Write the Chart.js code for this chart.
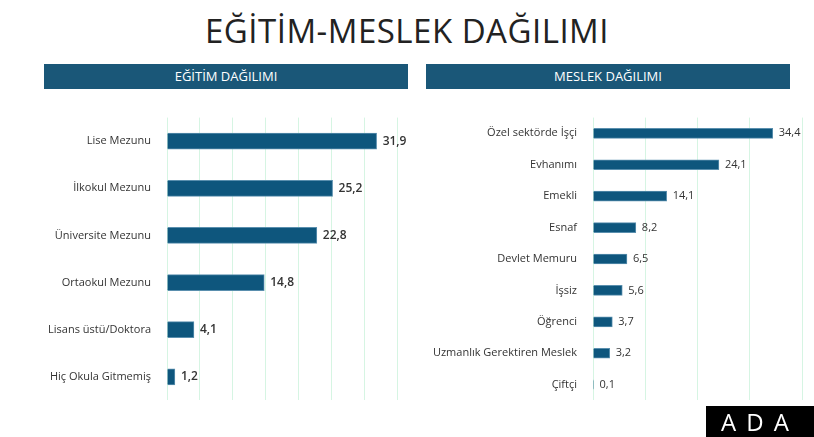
<!DOCTYPE html>
<html><head><meta charset="utf-8">
<script src="https://cdn.jsdelivr.net/npm/chart.js@4"></script>
<style>
body{margin:0;width:814px;height:437px;background:#fff;position:relative;overflow:hidden;font-family:"Open Sans",sans-serif}
h1{position:absolute;top:8px;left:0;width:814px;text-align:center;margin:0;font-size:33px;font-weight:500;color:#222;letter-spacing:0.5px}
.hd{position:absolute;top:64px;height:25px;background:#1a5778;color:#fff;font-size:13px;line-height:25px;text-align:center}
.c{position:absolute;top:103px;height:312px}
.logo{position:absolute;left:706px;top:406px;width:108px;height:31px;background:#000;color:#fff;font-size:24px;line-height:31px;text-align:center;letter-spacing:10px}
</style></head><body>
<h1>EĞİTİM-MESLEK DAĞILIMI</h1>
<div class="hd" style="left:44px;width:364px">EĞİTİM DAĞILIMI</div>
<div class="hd" style="left:426px;width:364px">MESLEK DAĞILIMI</div>
<div class="c" style="left:0;width:410px"><canvas id="edu"></canvas></div>
<div class="c" style="left:420px;width:394px"><canvas id="job"></canvas></div>
<div class="logo">ADA</div>
<script>
const eduLabels = ['Lise Mezunu', 'İlkokul Mezunu', 'Üniversite Mezunu', 'Ortaokul Mezunu', 'Lisans üstü/Doktora', 'Hiç Okula Gitmemiş'];
const eduValues = [31.9, 25.2, 22.8, 14.8, 4.1, 1.2];
const jobLabels = ['Özel sektörde İşçi', 'Evhanımı', 'Emekli', 'Esnaf', 'Devlet Memuru', 'İşsiz', 'Öğrenci', 'Uzmanlık Gerektiren Meslek', 'Çiftçi'];
const jobValues = [34.4, 24.1, 14.1, 8.2, 6.5, 5.6, 3.7, 3.2, 0.1];

const valueLabels = {
  id: 'valueLabels',
  afterDatasetsDraw(chart, args, opts) {
    const ctx = chart.ctx;
    const meta = chart.getDatasetMeta(0);
    ctx.save();
    ctx.fillStyle = '#333';
    ctx.font = opts.font;
    ctx.textBaseline = 'middle';
    meta.data.forEach((bar, i) => {
      const v = chart.data.datasets[0].data[i];
      ctx.fillText(v.toFixed(1).replace('.', ','), bar.x + 6, bar.y);
    });
    ctx.restore();
  }
};

function makeChart(id, labels, values, max, step, yWidth, padRight, thick, font) {
  new Chart(document.getElementById(id), {
    type: 'bar',
    data: { labels, datasets: [{ data: values, backgroundColor: '#0e567d', borderColor: '#5a8fae', borderWidth: 1, barThickness: thick }] },
    options: {
      indexAxis: 'y', responsive: true, maintainAspectRatio: false, animation: false,
      layout: { padding: { right: padRight, top: 0, bottom: 0 } },
      plugins: { legend: { display: false }, tooltip: { enabled: false }, valueLabels: { font } },
      scales: {
        x: { min: 0, max, ticks: { display: false, stepSize: step }, grid: { color: '#d6f5e3', drawTicks: false }, border: { display: false } },
        y: {
          grid: { display: false }, border: { display: false },
          ticks: { color: '#333', font: { family: 'Open Sans', size: 11 }, padding: 8 },
          afterFit(s) { s.width = yWidth; }
        }
      }
    },
    plugins: [valueLabels]
  });
}
makeChart('edu', eduLabels, eduValues, 35, 5, 167, 13, 16, '600 12px "Open Sans"');
makeChart('job', jobLabels, jobValues, 40, 10, 173, 12, 10, '11px "Open Sans"');
</script>
</body></html>
